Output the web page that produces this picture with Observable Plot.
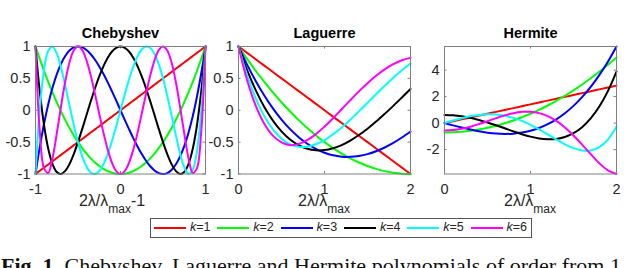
<!DOCTYPE html>
<html><head><meta charset="utf-8">
<script src="https://cdn.jsdelivr.net/npm/d3@7"></script>
<script src="https://cdn.jsdelivr.net/npm/@observablehq/plot@0.6"></script>
<style>
html,body{margin:0;padding:0;background:#fff;}
body{width:640px;height:268px;overflow:hidden;position:relative;font-family:"Liberation Sans",Arial,sans-serif;color:#262626;}
#legend{position:absolute;left:150px;top:218px;width:380px;height:18px;border:1px solid #555;background:#fff;}
.lg-line{position:absolute;top:8px;width:32px;height:0;border-top:2px solid;}
.lg-text{position:absolute;top:1px;font-size:12.5px;line-height:14px;color:#262626;white-space:nowrap;}
#caption{position:absolute;left:1px;top:254.5px;font-family:"Liberation Serif","Times New Roman",serif;font-size:22px;line-height:22px;color:#111;white-space:nowrap;}
</style></head><body>
<div id="legend"></div>
<div id="caption"><b>Fig. 1.</b> Chebyshev, Laguerre and Hermite polynomials of order from 1</div>
<script>
// ---- data ----
const ks = [1, 2, 3, 4, 5, 6];
const colors = ["#ff0000", "#00ff00", "#0000ff", "#000000", "#00ffff", "#ff00ff"];

const chebX = [-1,-0.975,-0.95,-0.9,-0.85,-0.8,-0.75,-0.7,-0.65,-0.6,-0.55,-0.5,-0.45,-0.4,-0.35,-0.3,-0.25,-0.2,-0.15,-0.1,-0.05,0,0.05,0.1,0.15,0.2,0.25,0.3,0.35,0.4,0.45,0.5,0.55,0.6,0.65,0.7,0.75,0.8,0.85,0.9,0.95,0.975,1];
const cheb1 = [-1,-0.975,-0.95,-0.9,-0.85,-0.8,-0.75,-0.7,-0.65,-0.6,-0.55,-0.5,-0.45,-0.4,-0.35,-0.3,-0.25,-0.2,-0.15,-0.1,-0.05,0,0.05,0.1,0.15,0.2,0.25,0.3,0.35,0.4,0.45,0.5,0.55,0.6,0.65,0.7,0.75,0.8,0.85,0.9,0.95,0.975,1];
const cheb2 = [1,0.901,0.805,0.62,0.445,0.28,0.125,-0.02,-0.155,-0.28,-0.395,-0.5,-0.595,-0.68,-0.755,-0.82,-0.875,-0.92,-0.955,-0.98,-0.995,-1,-0.995,-0.98,-0.955,-0.92,-0.875,-0.82,-0.755,-0.68,-0.595,-0.5,-0.395,-0.28,-0.155,-0.02,0.125,0.28,0.445,0.62,0.805,0.901,1];
const cheb3 = [-1,-0.782,-0.58,-0.216,0.094,0.352,0.563,0.728,0.852,0.936,0.985,1,0.986,0.944,0.879,0.792,0.688,0.568,0.437,0.296,0.15,0,-0.15,-0.296,-0.437,-0.568,-0.688,-0.792,-0.879,-0.944,-0.986,-1,-0.985,-0.936,-0.852,-0.728,-0.563,-0.352,-0.094,0.216,0.58,0.782,1];
const cheb4 = [1,0.625,0.296,-0.231,-0.604,-0.843,-0.969,-0.999,-0.952,-0.843,-0.688,-0.5,-0.292,-0.075,0.14,0.345,0.531,0.693,0.824,0.921,0.98,1,0.98,0.921,0.824,0.693,0.531,0.345,0.14,-0.075,-0.292,-0.5,-0.688,-0.843,-0.952,-0.999,-0.969,-0.843,-0.604,-0.231,0.296,0.625,1];
const cheb5 = [-1,-0.435,0.017,0.632,0.933,0.997,0.891,0.671,0.386,0.076,-0.228,-0.5,-0.723,-0.884,-0.977,-0.999,-0.953,-0.845,-0.684,-0.48,-0.248,0,0.248,0.48,0.684,0.845,0.953,0.999,0.977,0.884,0.723,0.5,0.228,-0.076,-0.386,-0.671,-0.891,-0.997,-0.933,-0.632,-0.017,0.435,1];
const cheb6 = [1,0.224,-0.328,-0.907,-0.983,-0.752,-0.367,0.06,0.45,0.752,0.938,1,0.942,0.782,0.544,0.255,-0.055,-0.355,-0.619,-0.825,-0.955,-1,-0.955,-0.825,-0.619,-0.355,-0.055,0.255,0.544,0.782,0.942,1,0.938,0.752,0.45,0.06,-0.367,-0.752,-0.983,-0.907,-0.328,0.224,1];

const lagX = [0,0.1,0.2,0.3,0.4,0.5,0.6,0.7,0.8,0.9,1,1.1,1.2,1.3,1.4,1.5,1.6,1.7,1.8,1.9,2];
const lag1 = [1,0.9,0.8,0.7,0.6,0.5,0.4,0.3,0.2,0.1,0,-0.1,-0.2,-0.3,-0.4,-0.5,-0.6,-0.7,-0.8,-0.9,-1];
const lag2 = [1,0.805,0.62,0.445,0.28,0.125,-0.02,-0.155,-0.28,-0.395,-0.5,-0.595,-0.68,-0.755,-0.82,-0.875,-0.92,-0.955,-0.98,-0.995,-1];
const lag3 = [1,0.715,0.459,0.231,0.029,-0.146,-0.296,-0.422,-0.525,-0.607,-0.667,-0.707,-0.728,-0.731,-0.717,-0.688,-0.643,-0.584,-0.512,-0.428,-0.333];
const lag4 = [1,0.629,0.315,0.052,-0.162,-0.331,-0.459,-0.549,-0.604,-0.629,-0.625,-0.596,-0.546,-0.476,-0.389,-0.289,-0.178,-0.057,0.069,0.2,0.333];
const lag5 = [1,0.548,0.187,-0.093,-0.301,-0.446,-0.536,-0.573,-0.571,-0.533,-0.467,-0.377,-0.269,-0.148,-0.018,0.116,0.251,0.383,0.51,0.627,0.733];
const lag6 = [1,0.472,0.074,-0.21,-0.398,-0.504,-0.548,-0.527,-0.467,-0.374,-0.257,-0.125,0.016,0.158,0.296,0.425,0.542,0.642,0.723,0.784,0.822];

const herX = [0,0.1,0.2,0.3,0.4,0.5,0.6,0.7,0.8,0.9,1,1.1,1.2,1.3,1.4,1.5,1.6,1.7,1.8,1.9,2];
const her1 = [0,0.141,0.283,0.424,0.566,0.707,0.849,0.99,1.131,1.273,1.414,1.556,1.697,1.838,1.98,2.121,2.263,2.404,2.546,2.687,2.828];
const her2 = [-0.707,-0.693,-0.651,-0.58,-0.481,-0.354,-0.198,-0.014,0.198,0.438,0.707,1.004,1.329,1.683,2.065,2.475,2.913,3.38,3.875,4.398,4.95];
const her3 = [0,-0.172,-0.337,-0.488,-0.619,-0.722,-0.79,-0.816,-0.794,-0.717,-0.577,-0.368,-0.083,0.285,0.744,1.299,1.958,2.729,3.617,4.629,5.774];
const her4 = [0.612,0.588,0.516,0.399,0.241,0.051,-0.164,-0.392,-0.621,-0.836,-1.021,-1.156,-1.222,-1.195,-1.052,-0.765,-0.307,0.353,1.247,2.41,3.878];
const her5 = [0,0.191,0.367,0.512,0.615,0.662,0.644,0.557,0.396,0.166,-0.129,-0.475,-0.853,-1.238,-1.597,-1.888,-2.063,-2.061,-1.815,-1.244,-0.258];
const her6 = [-0.559,-0.526,-0.428,-0.275,-0.078,0.144,0.373,0.583,0.75,0.849,0.857,0.754,0.524,0.162,-0.33,-0.936,-1.625,-2.345,-3.025,-3.565,-3.839];

const titles = ["Chebyshev", "Laguerre", "Hermite"];
const chebXTicks = [-1, 0, 1];
const chebYTicks = [-1, -0.5, 0, 0.5, 1];
const lagXTicks = [0, 1, 2];
const lagYTicks = [-1, -0.5, 0, 0.5, 1];
const herXTicks = [0, 1, 2];
const herYTicks = [-2, 0, 2, 4];
const xLabelMain = ["2λ/λ", "2λ/λ", "2λ/λ"];
const xLabelSub = "max";
const xLabelTail = ["-1", "", ""];
const legendLabels = ["1", "2", "3", "4", "5", "6"];

// ---- drawing ----
const H = 216, MT = 46, MB = 42.5;
const fmt = d => String(d);

function panel(cfg) {
  const frameW = cfg.width - cfg.ml - cfg.mr;
  const frameH = H - MT - MB;
  const rows = [];
  cfg.series.forEach((ys, i) => ys.forEach((y, j) => rows.push({x: cfg.xs[j], y, k: ks[i]})));
  const svg = Plot.plot({
    width: cfg.width, height: H,
    marginTop: MT, marginBottom: MB, marginLeft: cfg.ml, marginRight: cfg.mr,
    style: {fontFamily: "'Liberation Sans', Arial, sans-serif", fontSize: "14.5px", color: "#262626", background: "transparent", overflow: "visible"},
    x: {domain: cfg.xDomain},
    y: {domain: cfg.yDomain},
    color: {domain: ks, range: colors},
    marks: [
      Plot.tickX(cfg.xTicks, {x: d => d, insetTop: frameH - 2.5, stroke: "#808080"}),
      Plot.tickX(cfg.xTicks, {x: d => d, insetBottom: frameH - 2.5, stroke: "#808080"}),
      Plot.tickY(cfg.yTicks, {y: d => d, insetRight: frameW - 2.5, stroke: "#808080"}),
      Plot.tickY(cfg.yTicks, {y: d => d, insetLeft: frameW - 2.5, stroke: "#808080"}),
      Plot.line(rows, {x: "x", y: "y", z: "k", stroke: "k", strokeWidth: 2, curve: "catmull-rom"}),
      Plot.frame({stroke: "#808080"}),
      Plot.axisX({ticks: cfg.xTicks, tickSize: 0, tickPadding: 10, tickFormat: fmt, label: null}),
      Plot.axisY({ticks: cfg.yTicks, tickSize: 0, tickPadding: 5, tickFormat: fmt, label: null}),
      Plot.text([cfg.title], {text: d => d, frameAnchor: "top", dy: -8.5, lineAnchor: "bottom", fontWeight: "bold", fontSize: 14.5, fill: "#000"})
    ]
  });
  svg.style.position = "absolute";
  svg.style.left = cfg.left + "px";
  svg.style.top = "0px";
  const t = d3.select(svg).append("text")
    .attr("x", cfg.ml + frameW / 2 + cfg.labelShift)
    .attr("y", 205.5)
    .attr("text-anchor", "middle")
    .attr("fill", "#262626")
    .attr("font-size", 16);
  t.append("tspan").text(cfg.labelMain);
  t.append("tspan").attr("dy", 7).attr("font-size", 12).text(xLabelSub);
  if (cfg.labelTail) t.append("tspan").attr("dy", -7).text(cfg.labelTail);
  document.body.appendChild(svg);
}

panel({title: titles[0], xs: chebX, series: [cheb1, cheb2, cheb3, cheb4, cheb5, cheb6],
  xDomain: [-1, 1], yDomain: [-1, 1], xTicks: chebXTicks, yTicks: chebYTicks,
  left: 0, width: 215, ml: 35, mr: 10, labelShift: -8, labelMain: xLabelMain[0], labelTail: xLabelTail[0]});
panel({title: titles[1], xs: lagX, series: [lag1, lag2, lag3, lag4, lag5, lag6],
  xDomain: [0, 2], yDomain: [-1, 1], xTicks: lagXTicks, yTicks: lagYTicks,
  left: 215, width: 205, ml: 23, mr: 10, labelShift: 0, labelMain: xLabelMain[1], labelTail: xLabelTail[1]});
panel({title: titles[2], xs: herX, series: [her1, her2, her3, her4, her5, her6],
  xDomain: [0, 2], yDomain: [-3.84, 5.78], xTicks: herXTicks, yTicks: herYTicks,
  left: 420, width: 220, ml: 24, mr: 24, labelShift: 0, labelMain: xLabelMain[2], labelTail: xLabelTail[2]});

// legend
const lg = document.getElementById("legend");
ks.forEach((k, i) => {
  const ln = document.createElement("div");
  ln.className = "lg-line";
  ln.style.left = (3 + i * 63.3) + "px";
  ln.style.borderTopColor = colors[i];
  lg.appendChild(ln);
  const tx = document.createElement("div");
  tx.className = "lg-text";
  tx.style.left = (39 + i * 63.3) + "px";
  tx.innerHTML = "<i>k</i>=" + legendLabels[i];
  lg.appendChild(tx);
});
</script>
</body></html>
